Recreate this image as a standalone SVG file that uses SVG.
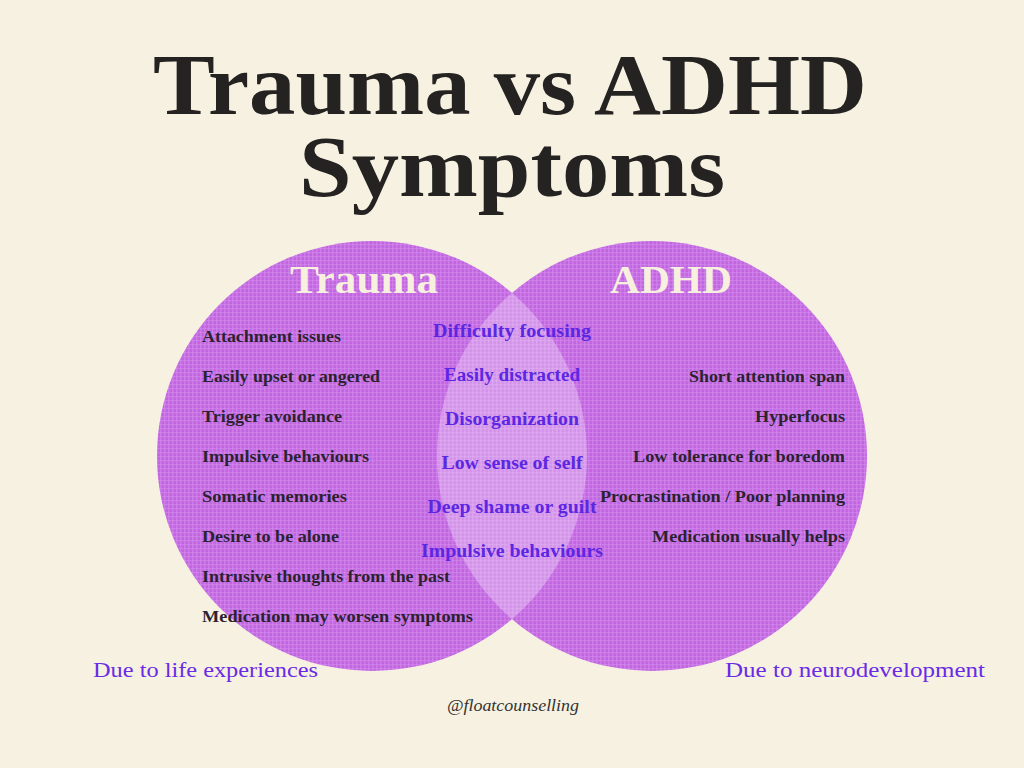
<svg xmlns="http://www.w3.org/2000/svg" width="1024" height="768" viewBox="0 0 1024 768">
<style>
.title{font-family:"Liberation Serif","Times New Roman",serif;font-weight:bold;font-size:86px;fill:#242322;text-anchor:middle}
.head{font-family:"Liberation Serif",serif;font-weight:bold;font-size:40px;fill:#F7F0DE;text-anchor:middle}
.item{font-family:"Liberation Serif",serif;font-weight:bold;font-size:16.5px;fill:#2b2230}
.mid{font-family:"Liberation Serif",serif;font-weight:bold;font-size:18.5px;fill:#5B27E3;text-anchor:middle}
.foot{font-family:"Liberation Serif",serif;font-size:22px;fill:#6A2BE6}
.handle{font-family:"Liberation Serif",serif;font-style:italic;font-size:16px;fill:#333;text-anchor:middle}
</style>
<defs>
<pattern id="weave" width="4" height="4" patternUnits="userSpaceOnUse">
<rect width="4" height="4" fill="#C165E0"/>
<rect x="0" y="0" width="1.5" height="4" fill="#D185EC" opacity="0.7"/>
<rect x="0" y="0" width="4" height="1.2" fill="#D68FEE" opacity="0.5"/>
</pattern>
<clipPath id="leftClip"><circle cx="372" cy="456" r="215"/></clipPath>
</defs>
<rect width="1024" height="768" fill="#F7F1E1"/>
<g id="title">
<text class="title" x="510" y="114" textLength="714" lengthAdjust="spacingAndGlyphs">Trauma vs ADHD</text>
<text class="title" x="512" y="196" textLength="426" lengthAdjust="spacingAndGlyphs">Symptoms</text>
</g>
<g id="trauma-circle">
<circle cx="372" cy="456" r="215" fill="url(#weave)"/>
</g>
<g id="adhd-circle">
<circle cx="652" cy="456" r="215" fill="url(#weave)"/>
</g>
<g id="overlap">
<circle cx="652" cy="456" r="215" fill="#FFFFFF" opacity="0.3" clip-path="url(#leftClip)"/>
</g>
<g id="trauma-labels">
<text class="head" x="364" y="293" textLength="148" lengthAdjust="spacingAndGlyphs">Trauma</text>
<text class="item" x="202" y="342" textLength="139" lengthAdjust="spacingAndGlyphs">Attachment issues</text>
<text class="item" x="202" y="382" textLength="178" lengthAdjust="spacingAndGlyphs">Easily upset or angered</text>
<text class="item" x="202" y="422" textLength="140" lengthAdjust="spacingAndGlyphs">Trigger avoidance</text>
<text class="item" x="202" y="462" textLength="167" lengthAdjust="spacingAndGlyphs">Impulsive behaviours</text>
<text class="item" x="202" y="502" textLength="145" lengthAdjust="spacingAndGlyphs">Somatic memories</text>
<text class="item" x="202" y="542" textLength="137" lengthAdjust="spacingAndGlyphs">Desire to be alone</text>
<text class="item" x="202" y="582" textLength="248" lengthAdjust="spacingAndGlyphs">Intrusive thoughts from the past</text>
<text class="item" x="202" y="622" textLength="271" lengthAdjust="spacingAndGlyphs">Medication may worsen symptoms</text>
</g>
<g id="shared-labels">
<text class="mid" x="512" y="337" textLength="158" lengthAdjust="spacingAndGlyphs">Difficulty focusing</text>
<text class="mid" x="512" y="381" textLength="136" lengthAdjust="spacingAndGlyphs">Easily distracted</text>
<text class="mid" x="512" y="425" textLength="134" lengthAdjust="spacingAndGlyphs">Disorganization</text>
<text class="mid" x="512" y="469" textLength="141" lengthAdjust="spacingAndGlyphs">Low sense of self</text>
<text class="mid" x="512" y="513" textLength="169" lengthAdjust="spacingAndGlyphs">Deep shame or guilt</text>
<text class="mid" x="512" y="557" textLength="182" lengthAdjust="spacingAndGlyphs">Impulsive behaviours</text>
</g>
<g id="adhd-labels">
<text class="head" x="671" y="293" textLength="122" lengthAdjust="spacingAndGlyphs">ADHD</text>
<text class="item" x="845" y="382" text-anchor="end" textLength="156" lengthAdjust="spacingAndGlyphs">Short attention span</text>
<text class="item" x="845" y="422" text-anchor="end" textLength="90" lengthAdjust="spacingAndGlyphs">Hyperfocus</text>
<text class="item" x="845" y="462" text-anchor="end" textLength="212" lengthAdjust="spacingAndGlyphs">Low tolerance for boredom</text>
<text class="item" x="845" y="502" text-anchor="end" textLength="245" lengthAdjust="spacingAndGlyphs">Procrastination / Poor planning</text>
<text class="item" x="845" y="542" text-anchor="end" textLength="193" lengthAdjust="spacingAndGlyphs">Medication usually helps</text>
</g>
<g id="footer">
<text class="foot" x="93" y="677" textLength="225" lengthAdjust="spacingAndGlyphs">Due to life experiences</text>
<text class="foot" x="725" y="677" textLength="260" lengthAdjust="spacingAndGlyphs">Due to neurodevelopment</text>
<text class="handle" x="513" y="711" textLength="132" lengthAdjust="spacingAndGlyphs">@floatcounselling</text>
</g>
</svg>
